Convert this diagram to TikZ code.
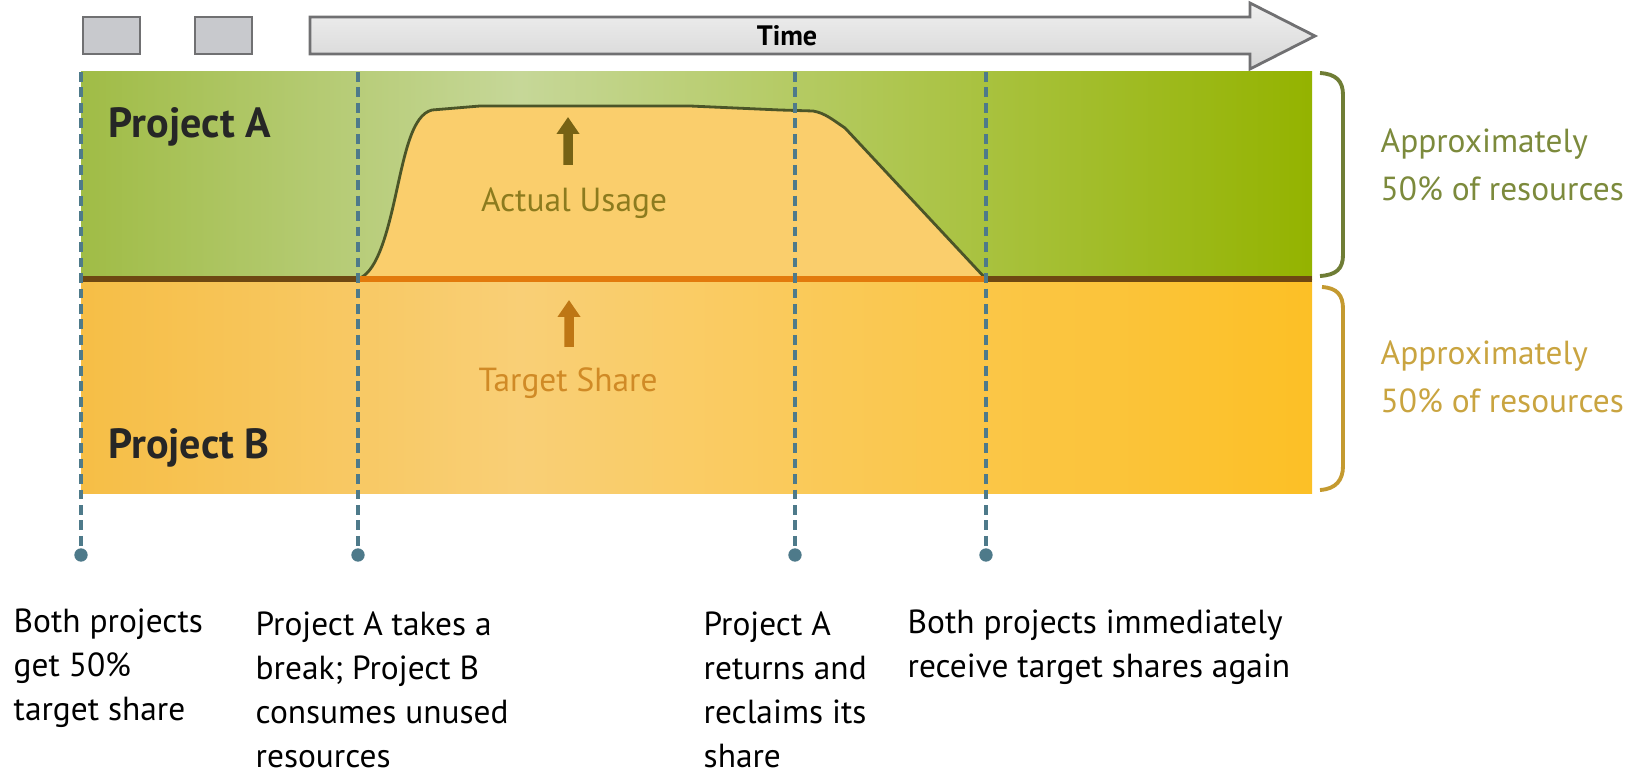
\documentclass[tikz,border=0pt]{standalone}
\usepackage{fontspec}
\setmainfont{PT Sans}
\usetikzlibrary{arrows.meta,positioning}
\definecolor{grnL}{RGB}{160,188,70}
\definecolor{grnM}{RGB}{198,215,152}
\definecolor{grnR}{RGB}{148,179,0}
\definecolor{ornL}{RGB}{246,190,70}
\definecolor{ornM}{RGB}{249,207,118}
\definecolor{ornR}{RGB}{252,192,38}
\definecolor{usefill}{RGB}{250,206,108}
\definecolor{useline}{RGB}{75,85,40}
\definecolor{divbrown}{RGB}{110,72,18}
\definecolor{divorange}{RGB}{226,122,12}
\definecolor{guideblue}{RGB}{78,122,138}
\definecolor{boxfill}{RGB}{200,201,205}
\definecolor{boxline}{RGB}{112,112,114}
\definecolor{usetxt}{RGB}{140,123,30}
\definecolor{usearr}{RGB}{118,98,20}
\definecolor{sharetxt}{RGB}{208,138,38}
\definecolor{sharearr}{RGB}{190,118,20}
\definecolor{braceA}{RGB}{111,125,53}
\definecolor{braceB}{RGB}{196,154,48}
\definecolor{approxA}{RGB}{124,138,60}
\definecolor{approxB}{RGB}{201,164,64}

\begin{document}
\begin{tikzpicture}[>=Latex,
 guide/.style={guideblue,line width=1.1pt,dash pattern=on 2.8pt off 1.6pt},
 pindot/.style={circle,fill=guideblue,inner sep=0pt,minimum size=3.8pt},
 tag/.style={font=\fontsize{9.5}{12.5}\selectfont,align=left,anchor=base west,inner sep=0pt},
 approx/.style={font=\fontsize{9.5}{13.4}\selectfont,align=left,anchor=base west,inner sep=0pt},
 proj/.style={font=\fontsize{12}{14}\selectfont\bfseries,text=black!85,inner sep=0pt},
 midlabel/.style={font=\fontsize{9.5}{12}\selectfont,inner sep=0pt},
 upmark/.style={line width=2.7pt,-{Triangle[length=4.8pt,width=6.2pt]}},
 slot/.style={draw=boxline,line width=0.8pt,fill=boxfill}]
\useasboundingbox (0,0) rectangle (16.34,7.73);

% time bar
\draw[slot] (0.83,7.19) rectangle (1.40,7.56);
\draw[slot] (1.95,7.19) rectangle (2.52,7.56);
\shade[draw=boxline,line width=0.8pt,top color=gray!12,bottom color=gray!32]
 (3.10,7.56) -- (12.50,7.56) -- (12.50,7.70) -- (13.15,7.37) -- (12.50,7.04) -- (12.50,7.19) -- (3.10,7.19) -- cycle;
\node[font=\fontsize{8}{10}\selectfont\bfseries] (time) at (7.87,7.37) {Time};

% two bands
\shade[left color=grnL,right color=grnM] (0.81,4.94) rectangle (5.2,7.01);
\shade[left color=grnM,right color=grnR] (5.2,4.94) rectangle (13.12,7.01);
\shade[left color=ornL,right color=ornM] (0.81,2.80) rectangle (5.2,4.94);
\shade[left color=ornM,right color=ornR] (5.2,2.80) rectangle (13.12,4.94);

% actual usage of B
\filldraw[fill=usefill,draw=useline,line width=0.8pt]
 (3.58,4.94) .. controls (3.75,5.0) and (3.85,5.3) .. (3.95,5.75)
 .. controls (4.05,6.2) and (4.12,6.58) .. (4.32,6.63)
 -- (4.8,6.67) -- (6.9,6.67) -- (7.8,6.63) -- (8.13,6.62)
 .. controls (8.25,6.6) and (8.33,6.53) .. (8.45,6.45) -- (9.86,4.94);
\draw[divbrown,line width=1.5pt] (0.81,4.94) -- (13.12,4.94);
\draw[divorange,line width=1.5pt] (3.58,4.94) -- (9.86,4.94);

% time marks
\foreach \x/\n in {0.81/1,3.58/2,7.95/3,9.86/4}{
 \coordinate (top\n) at (\x,7.01);
 \node[pindot] (pin\n) at (\x,2.18) {};
 \draw[guide] (top\n) -- (pin\n);
}

\node[proj] (pa) at (1.90,6.46) {Project A};
\node[proj] (pb) at (1.89,3.25) {Project B};

\node[midlabel,text=usetxt] (usage) at (5.74,5.70) {Actual Usage};
\coordinate (usagetip) at (5.68,6.56);
\draw[upmark,usearr] ([xshift=-0.06cm,yshift=0.22cm]usage.north) -- (usagetip);
\node[midlabel,text=sharetxt] (share) at (5.68,3.90) {Target Share};
\coordinate (sharetip) at (5.69,4.73);
\draw[upmark,sharearr] ([xshift=0.01cm,yshift=0.2cm]share.north) -- (sharetip);

% braces
\draw[braceA,line width=1.1pt] (13.20,7.00) .. controls (13.36,6.99) and (13.43,6.92) .. (13.43,6.78)
 -- (13.43,5.18) .. controls (13.43,5.04) and (13.36,4.98) .. (13.20,4.97);
\draw[braceB,line width=1.1pt] (13.22,4.86) .. controls (13.37,4.85) and (13.43,4.78) .. (13.43,4.64)
 -- (13.43,3.07) .. controls (13.43,2.93) and (13.36,2.84) .. (13.20,2.83);
% base = last line
\node[approx,text=approxA] (appA) at (13.80,5.73) {Approximately\\50\% of resources};
\node[approx,text=approxB] (appB) at (13.80,3.61) {Approximately\\50\% of resources};

% notes under the marks
\node[tag] (note1) at (0.13,0.53) {Both projects\\get 50\%\\target share};
\node[tag] (note2) at (2.55,0.06) {Project A takes a\\break; Project B\\consumes unused\\resources};
\node[tag] (note3) at (7.03,0.06) {Project A\\returns and\\reclaims its\\share};
\node[tag] (note4) at (9.07,0.96) {Both projects immediately\\receive target shares again};
\end{tikzpicture}
\end{document}
